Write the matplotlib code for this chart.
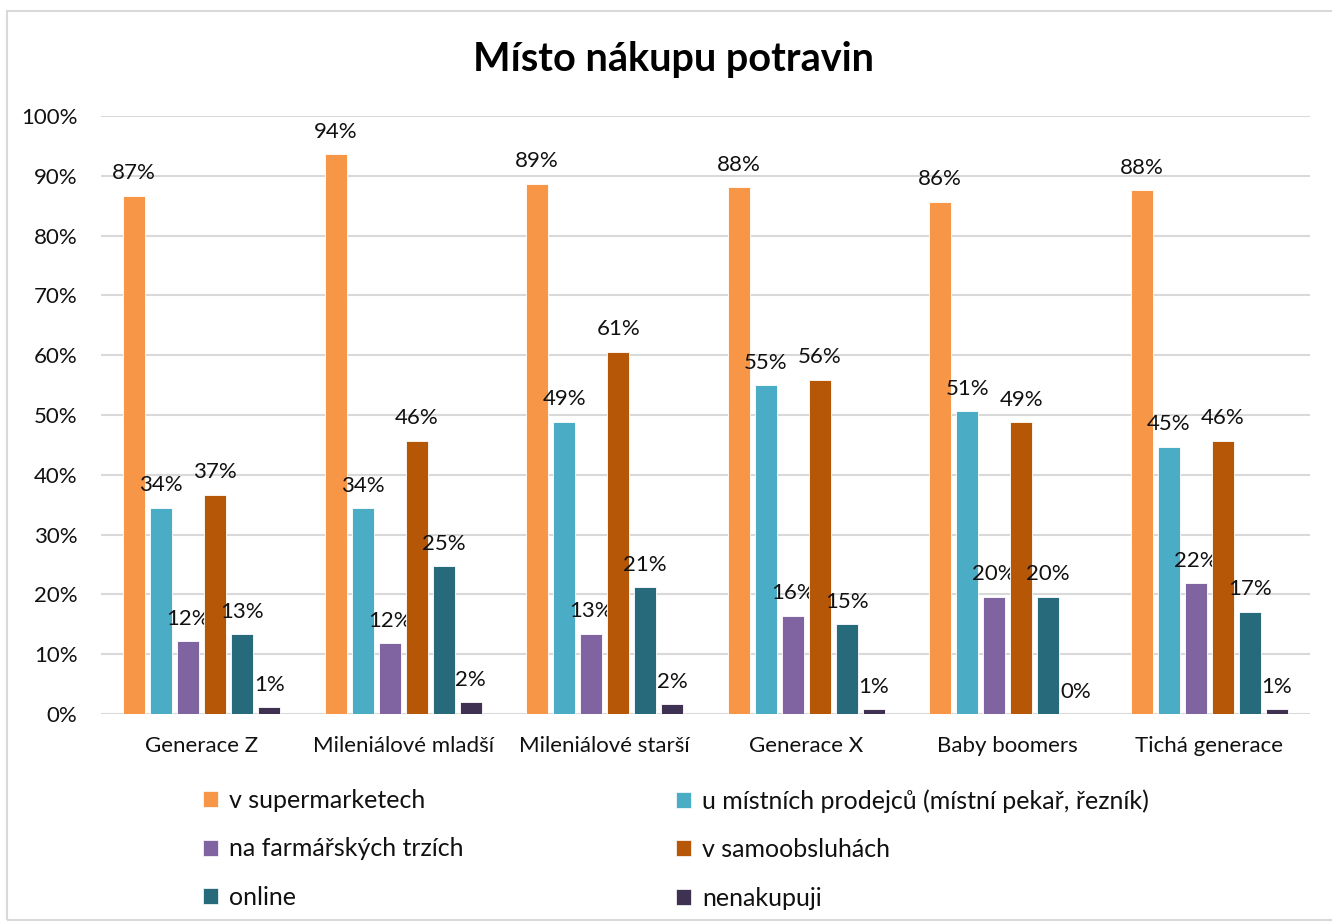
import numpy as np
import matplotlib
matplotlib.use("Agg")
from matplotlib import pyplot as plt
from matplotlib.patches import Patch, Rectangle

plt.rcParams['font.family'] = ['Lato', 'DejaVu Sans']

categories = ["Generace Z", "Mileniálové mladší", "Mileniálové starší",
              "Generace X", "Baby boomers", "Tichá generace"]
series_names = ["v supermarketech",
                "u místních prodejců (místní pekař, řezník)",
                "na farmářských trzích",
                "v samoobsluhách",
                "online",
                "nenakupuji"]
supermarket = [86.7, 93.6, 88.7, 88.1, 85.7, 87.6]
mistni = [34.5, 34.4, 48.9, 55.0, 50.6, 44.7]
farmarske = [12.2, 11.8, 13.4, 16.4, 19.6, 21.9]
samoobsluha = [36.7, 45.7, 60.6, 55.9, 48.8, 45.7]
online = [13.3, 24.7, 21.2, 15.0, 19.6, 17.1]
nenakupuji = [1.1, 2.0, 1.6, 0.8, 0.0, 0.8]
values = [supermarket, mistni, farmarske, samoobsluha, online, nenakupuji]
colors = ["#F79646", "#4BACC6", "#8064A2", "#B65708", "#276A7C", "#3F3151"]

fig = plt.figure(figsize=(13.32, 9.23), dpi=100)
ax = fig.add_axes([0.0758, 0.2264, 0.9077, 0.6479])

x = np.arange(len(categories))
pitch = 0.134
width = 0.109
for i, (vals, c) in enumerate(zip(values, colors)):
    pos = x + (i - 2.5) * pitch
    ax.bar(pos, vals, width, color=c, edgecolor="white", linewidth=0.6, zorder=3)
    for px, v in zip(pos, vals):
        ax.annotate(f"{v:.0f}%", (px, v), xytext=(0, 9), textcoords="offset points",
                    ha="center", va="bottom", fontsize=16, color="#111111")

ax.set_xlim(-0.5, len(categories) - 0.5)
ax.set_ylim(0, 100)
ax.set_yticks(np.arange(0, 101, 10))
ax.set_yticklabels([f"{t}%" for t in range(0, 101, 10)], fontsize=16, color="#111111")
ax.set_xticks(x)
ax.set_xticklabels(categories, fontsize=16, color="#111111")
ax.tick_params(length=0)
ax.tick_params(axis="x", pad=16)
ax.tick_params(axis="y", pad=17)
ax.yaxis.grid(True, color="#D9D9D9", linewidth=1.5, zorder=0)
ax.set_axisbelow(True)
for s in ax.spines.values():
    s.set_visible(False)

fig.text(0.5055, 0.936, "Místo nákupu potravin", ha="center", va="center",
         fontsize=28.5, fontweight="bold", color="#000000")

# chart border
fig.patches.append(Rectangle((7 / 1332, 3 / 923), 1.0, 909 / 923, transform=fig.transFigure,
                             fill=False, edgecolor="#D9D9D9", linewidth=1.5))

handles = [Patch(facecolor=c, edgecolor="white", linewidth=0.5) for c in colors]
for col, xs in [([0, 2, 4], 203 / 1332), ([1, 3, 5], 676 / 1332)]:
    leg = fig.legend([handles[i] for i in col], [series_names[i] for i in col],
                     loc="upper left", bbox_to_anchor=(xs, 1 - 789 / 923),
                     frameon=False, fontsize=18, handlelength=0.6, handleheight=0.6,
                     handletextpad=0.45, labelspacing=1.02, borderaxespad=0, borderpad=0)
    for t in leg.get_texts():
        t.set_color("#111111")

fig.savefig("out.png", dpi=100)
